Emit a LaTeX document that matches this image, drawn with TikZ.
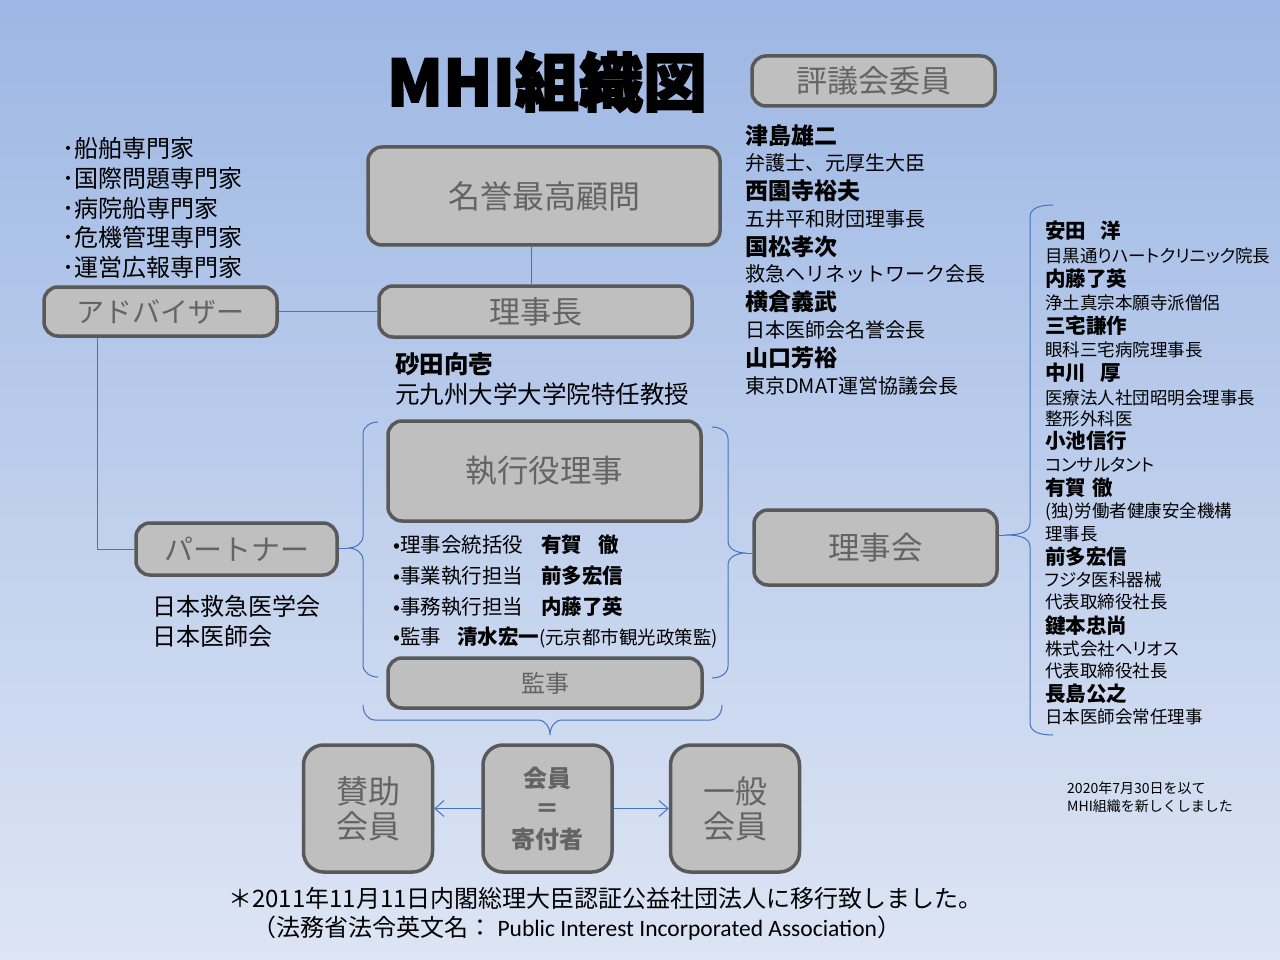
\documentclass[tikz,border=0pt]{standalone}
\usepackage{fontspec}
\setmainfont{Noto Sans CJK JP}
\newfontfamily\titlefont[BoldFeatures={FakeBold=2.5}]{Noto Sans CJK JP}
\newfontfamily\propfont[RawFeature=+palt]{Noto Sans CJK JP}
\newfontfamily\latinfont{Carlito}
\usetikzlibrary{arrows.meta}
\definecolor{bgtop}{RGB}{157,183,228}
\definecolor{bgbot}{RGB}{221,229,244}
\definecolor{boxfill}{RGB}{191,191,191}
\definecolor{boxline}{RGB}{89,89,89}
\definecolor{boxtext}{RGB}{100,100,100}
\definecolor{connblue}{RGB}{68,114,196}
\newcommand\fsz[1]{\fontsize{#1}{#1}\selectfont}
\begin{document}
\begin{tikzpicture}[x=1pt,y=-1pt,
  box/.style={draw=boxline,line width=3.5pt,fill=boxfill,rounded corners=14pt,text=boxtext,inner sep=0pt,align=center},
  mbox/.style={box,rounded corners=20pt,minimum width=129,minimum height=127},
  conn/.style={draw=connblue,line width=1pt},
  arr/.style={conn,-{Straight Barb[length=9pt,width=16pt]}},
  txt/.style={anchor=west,inner sep=0pt,text=black},
  hnm/.style={txt,font=\fsz{23}\bfseries},
  hrl/.style={txt,font=\fsz{20}},
  lnm/.style={txt,font=\fsz{20.5}\bfseries},
  lrl/.style={txt,font=\fsz{17.5}\propfont},
  adl/.style={txt,font=\fsz{24}},
  exl/.style={txt,font=\fsz{20.5}}
]
\shade[top color=bgtop,bottom color=bgbot] (0,0) rectangle (1280,960);
\useasboundingbox (0,0) rectangle (1280,960);

% title
\node[inner sep=0pt,font=\fsz{64}\titlefont\bfseries] (title) at (547,82) {MHI組織図};

% boxes
\node[box,minimum width=243,minimum height=50,font=\fsz{31}] (hyogi) at (873.5,81) {評議会委員};
\node[box,minimum width=352,minimum height=98,font=\fsz{32}] (meiyo) at (544,196) {名誉最高顧問};
\node[box,minimum width=313,minimum height=51,font=\fsz{31}] (rijicho) at (535.5,311.5) {理事長};
\node[box,minimum width=233,minimum height=49,font=\fsz{28}] (adv) at (160.5,311.5) {アドバイザー};
\node[box,minimum width=201,minimum height=52,font=\fsz{29}] (partner) at (236.5,549) {パートナー};
\node[box,minimum width=313,minimum height=100,font=\fsz{31.5}] (shikko) at (544.5,471) {執行役理事};
\node[box,minimum width=314,minimum height=50,font=\fsz{24}] (kanji) at (545,683) {監事};
\node[box,minimum width=243,minimum height=75,font=\fsz{31.5}] (rijikai) at (875.5,547.5) {理事会};
\node[mbox,font={\fontsize{32}{35}\selectfont}] (sanjo) at (368,808.5) {賛助\\会員};
\node[mbox,font={\fontsize{24}{30.5}\selectfont\bfseries}] (kaiin) at (547.5,808.5) {会員\\＝\\寄付者};
\node[mbox,font={\fontsize{32}{35}\selectfont}] (ippan) at (735,808.5) {一般\\会員};

% advisor list
\node[adl] (ad1) at (62,148) {･船舶専門家};
\node[adl] (ad2) at (62,178) {･国際問題専門家};
\node[adl] (ad3) at (62,208) {･病院船専門家};
\node[adl] (ad4) at (62,237) {･危機管理専門家};
\node[adl] (ad5) at (62,267) {･運営広報専門家};

% partner list
\node[txt,font=\fsz{24}] (pt1) at (152,606) {日本救急医学会};
\node[txt,font=\fsz{24}] (pt2) at (152,636) {日本医師会};

% chairman
\node[txt,font=\fsz{24.5}\bfseries] (ch1) at (395,364) {砂田向壱};
\node[txt,font=\fsz{24.5}] (ch2) at (395,394) {元九州大学大学院特任教授};

% executive list
\node[exl] (ex1) at (393,545) {•理事会統括役\hspace{18pt}\textbf{有賀\hspace{16pt}徹}};
\node[exl] (ex2) at (393,576) {•事業執行担当\hspace{18pt}\textbf{前多宏信}};
\node[exl] (ex3) at (393,607) {•事務執行担当\hspace{18pt}\textbf{内藤了英}};
\node[exl] (ex4) at (393,638) {•監事\hspace{16pt}\textbf{清水宏一}{\fsz{18.5}(元京都市観光政策監)}};

% councillors
\node[hnm] (h1) at (745,136) {津島雄二};
\node[hrl] (h2) at (745,163) {弁護士、元厚生大臣};
\node[hnm] (h3) at (745,191) {西園寺裕夫};
\node[hrl] (h4) at (745,219) {五井平和財団理事長};
\node[hnm] (h5) at (745,247) {国松孝次};
\node[hrl] (h6) at (745,274) {救急ヘリネットワーク会長};
\node[hnm] (h7) at (745,302) {横倉義武};
\node[hrl] (h8) at (745,330) {日本医師会名誉会長};
\node[hnm] (h9) at (745,358) {山口芳裕};
\node[hrl] (h10) at (745,386) {東京DMAT運営協議会長};

% board members
\node[lnm] (b1) at (1045,231) {安田\hspace{14pt}洋};
\node[lrl] (b2) at (1045,256) {目黒通りハートクリニック院長};
\node[lnm] (b3) at (1045,279) {内藤了英};
\node[lrl] (b4) at (1045,303) {浄土真宗本願寺派僧侶};
\node[lnm] (b5) at (1045,326) {三宅謙作};
\node[lrl] (b6) at (1045,350) {眼科三宅病院理事長};
\node[lnm] (b7) at (1045,373) {中川\hspace{14pt}厚};
\node[lrl] (b8) at (1045,398) {医療法人社団昭明会理事長};
\node[lrl] (b9) at (1045,419) {整形外科医};
\node[lnm] (b10) at (1045,441) {小池信行};
\node[lrl] (b11) at (1045,465) {コンサルタント};
\node[lnm] (b12) at (1045,488) {有賀\hspace{6pt}徹};
\node[lrl] (b13) at (1045,512) {(独)労働者健康安全機構};
\node[lrl] (b14) at (1045,534) {理事長};
\node[lnm] (b15) at (1045,557) {前多宏信};
\node[lrl] (b16) at (1045,580) {フジタ医科器械};
\node[lrl] (b17) at (1045,602) {代表取締役社長};
\node[lnm] (b18) at (1045,626) {鍵本忠尚};
\node[lrl] (b19) at (1045,649) {株式会社ヘリオス};
\node[lrl] (b20) at (1045,671) {代表取締役社長};
\node[lnm] (b21) at (1045,694) {長島公之};
\node[lrl] (b22) at (1045,717) {日本医師会常任理事};

% note and footer
\node[txt,font=\fsz{14}] (n1) at (1067,788) {2020年7月30日を以て};
\node[txt,font=\fsz{14}] (n2) at (1067,806) {MHI組織を新しくしました};
\node[txt,font=\fsz{24}] (f1) at (228,898) {＊2011年11月11日内閣総理大臣認証公益社団法人に移行致しました。};
\node[txt,font=\fsz{24}] (f2) at (252,928) {（法務省法令英文名：{\latinfont\fsz{23.5} Public Interest Incorporated Association}）};

% braces
\coordinate (tipL) at (348,548);
\coordinate (tipR) at (746,553);
\coordinate (tipB) at (550,735);
\coordinate (tipC) at (1005,535);
\draw[conn] (378,422) to[out=180,in=90] (363,434) -- (363,536) to[out=-90,in=0] (tipL)
  to[out=0,in=90] (363,560) -- (363,665) to[out=-90,in=180] (378,677);
\draw[conn] (712,427) to[out=0,in=90] (728,439) -- (728,541) to[out=-90,in=180] (tipR)
  to[out=180,in=90] (728,565) -- (728,666) to[out=-90,in=0] (712,678);
\draw[conn] (363,705) to[out=-90,in=180] (375,720) -- (538,720) to[out=0,in=90] (tipB)
  to[out=90,in=180] (562,720) -- (710,720) to[out=0,in=-90] (722,705);
\draw[conn] (1053,205) to[out=180,in=90] (1030,217) -- (1030,523) to[out=-90,in=0] (tipC)
  to[out=0,in=90] (1030,547) -- (1030,723) to[out=-90,in=180] (1053,735);

% connectors
\coordinate (rtop) at ([xshift=-4pt]rijicho.north);
\draw[conn] (rtop) -- (rtop |- meiyo.south);
\draw[conn] (adv.east) -- (rijicho.west);
\coordinate (advb) at ([xshift=-63pt]adv.south);
\draw[conn] (advb) |- (partner.west);
\draw[conn] (tipL) -- (tipL -| partner.east);
\draw[conn] (tipR) -- (tipR -| rijikai.west);
\draw[conn] (tipC) -- (tipC -| rijikai.east);
\draw[arr] (kaiin.west) -- (sanjo.east);
\draw[arr] (kaiin.east) -- (ippan.west);
\end{tikzpicture}
\end{document}
